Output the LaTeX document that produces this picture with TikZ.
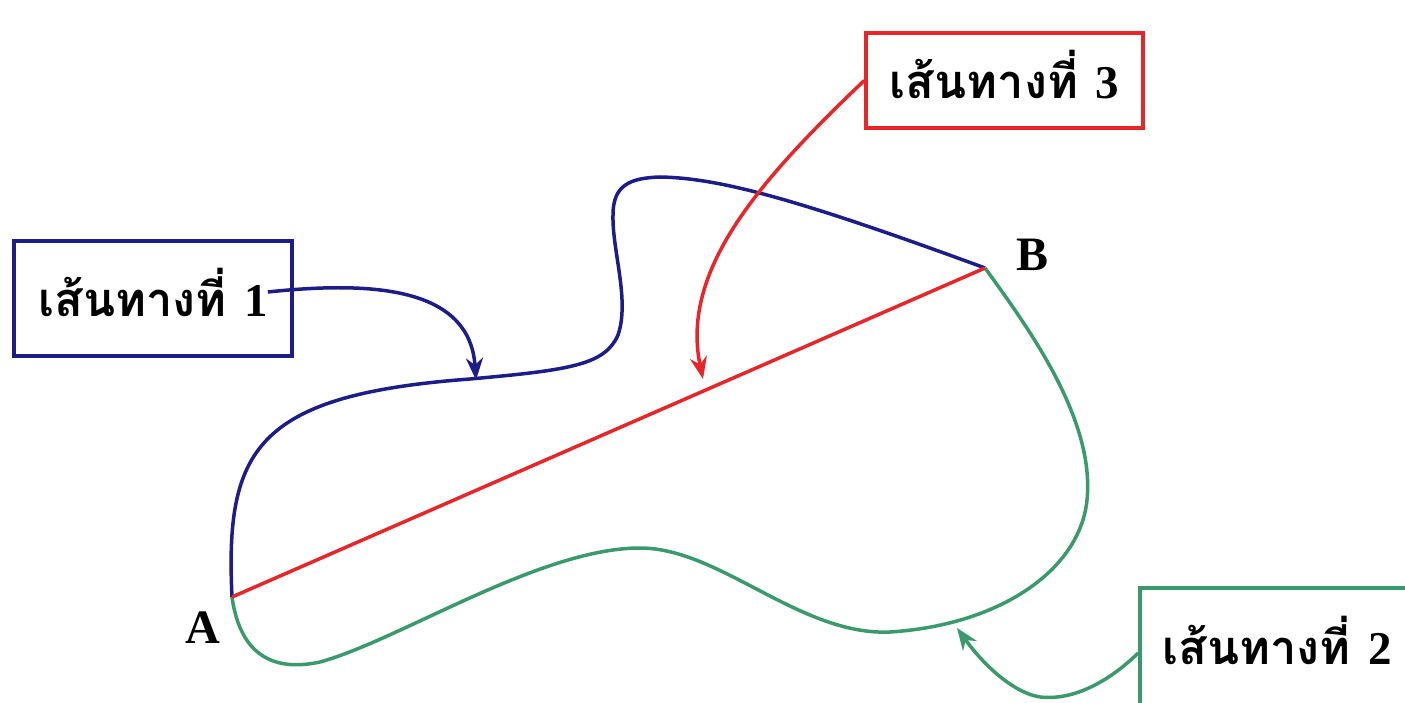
\documentclass[tikz,border=0pt]{standalone}
\usepackage{fontspec}
\newfontfamily\thai[Script=Thai]{Loma}
\newfontfamily\numfont{Liberation Serif}
\usetikzlibrary{arrows.meta}
\definecolor{pathone}{HTML}{1C1C8A}
\definecolor{pathtwo}{HTML}{3A9A6E}
\definecolor{paththree}{HTML}{E8262A}
\tikzset{
  route/.style={line width=3.5pt},
  callout/.style={line width=3.5pt, -{Stealth[length=22pt,width=17pt,inset=7pt]}},
  routebox/.style={draw=#1, line width=3.5pt, rectangle, inner sep=0pt, fill=white},
  routetext/.style={font=\fontsize{47}{52}\selectfont\bfseries, inner sep=0pt},
  endpoint/.style={font=\numfont\fontsize{48}{52}\selectfont\bfseries, inner sep=0pt}
}
\newcommand{\routename}[1]{{\thai เส้นทางที่}\ {\numfont #1}}
\begin{document}
\begin{tikzpicture}[x=1pt,y=-1pt]
\useasboundingbox (0,0) rectangle (1405,703);
\clip (0,0) rectangle (1405,703);

% end points
\coordinate (A) at (232,597);
\coordinate (B) at (985,268);
\node[endpoint] (labA) at (203,628) {A};
\node[endpoint] (labB) at (1032,255) {B};

% route 1 (upper, winding)
\draw[route, pathone] (A)
  .. controls (225,450) and (255,395) .. (470,379)
  .. controls (570,370) and (605,365) .. (618,335)
  .. controls (630,300) and (612,250) .. (613,215)
  .. controls (613,185) and (630,178) .. (660,177)
  .. controls (720,178) and (800,200) .. (B);

% route 2 (lower loop)
\draw[route, pathtwo] (B)
  .. controls (1030,330) and (1095,420) .. (1087,500)
  .. controls (1080,570) and (1000,625) .. (890,632)
  .. controls (800,636) and (720,548) .. (640,548)
  .. controls (540,548) and (400,640) .. (320,662)
  .. controls (260,675) and (238,640) .. (A);

% route 3 (straight)
\draw[route, paththree] (A) -- (B);

% label boxes
\node[routebox=pathone, minimum width=278pt, minimum height=115pt] (box1) at (153,298.5) {};
\node[routetext] (t1) at (153,292) {\routename{1}};
\node[routebox=paththree, minimum width=277pt, minimum height=95pt] (box3) at (1004.5,80.5) {};
\node[routetext] (t3) at (1004.5,75) {\routename{3}};
\node[routebox=pathtwo, minimum width=280pt, minimum height=130pt] (box2) at (1280,653) {};
\node[routetext] (t2) at (1277,640) {\routename{2}};

% pointers from the boxes to the routes
\coordinate (tip1) at (476,380);
\coordinate (tip3) at (703,379);
\coordinate (tip2) at (957,628);
\coordinate (low2) at (1040,697);
\draw[callout, pathone] (t1.east) .. controls (380,280) and (470,290) .. (tip1);
\draw[callout, paththree] (box3.west) .. controls (760,180) and (680,270) .. (tip3);
\draw[line width=3.5pt, pathtwo] (box2.west) .. controls (1100,690) and (1065,700) .. (low2);
\draw[callout, pathtwo] (low2) .. controls (1010,692) and (980,660) .. (tip2);
\end{tikzpicture}
\end{document}
